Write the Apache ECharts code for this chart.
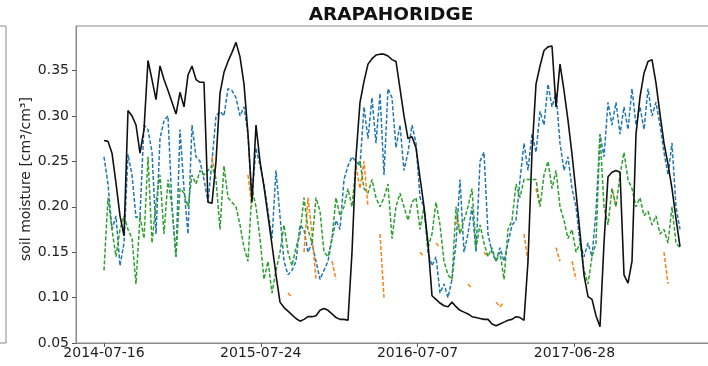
<!DOCTYPE html>
<html>
<head>
<meta charset="utf-8">
<script src="https://cdn.jsdelivr.net/npm/echarts@6/dist/echarts.min.js"></script>
<style>
html,body{margin:0;padding:0;background:#fff;overflow:hidden;}
#c{width:708px;height:366px;}
</style>
</head>
<body>
<div id="c"></div>
<script>
// ---- data (sample index, evenly spaced) ----
const titleText = 'ARAPAHORIDGE';
const yAxisName = 'soil moisture [cm\u00b3/cm\u00b3]';
const tickPos = [0, 39.2, 78.4, 117.6];
const tickLabels = ['2014-07-16', '2015-07-24', '2016-07-07', '2017-06-28'];
const yTicks = [0.05, 0.10, 0.15, 0.20, 0.25, 0.30, 0.35];

const obsBlack = [
0.273,0.272,0.259,0.226,0.19,0.168,0.306,0.30,0.29,0.259,
0.285,0.361,0.34,0.318,0.355,0.34,0.328,0.315,0.302,0.326,
0.31,0.345,0.355,0.34,0.337,0.337,0.205,0.204,0.25,0.325,
0.348,0.36,0.37,0.381,0.365,0.335,0.28,0.205,0.29,0.25,
0.222,0.19,0.158,0.125,0.095,0.089,0.085,0.081,0.077,0.074,
0.076,0.079,0.079,0.08,0.086,0.088,0.086,0.082,0.078,0.076,
0.076,0.075,0.15,0.255,0.315,0.338,0.357,0.363,0.367,0.368,
0.368,0.366,0.362,0.36,0.33,0.30,0.275,0.277,0.265,0.232,
0.20,0.16,0.102,0.098,0.094,0.091,0.09,0.095,0.09,0.086,
0.084,0.082,0.079,0.078,0.077,0.076,0.076,0.071,0.069,0.071,
0.073,0.075,0.076,0.079,0.078,0.075,0.14,0.26,0.335,0.355,
0.372,0.376,0.377,0.31,0.357,0.328,0.295,0.258,0.216,0.171,
0.125,0.101,0.098,0.08,0.068,0.16,0.233,0.238,0.24,0.238,
0.125,0.116,0.14,0.28,0.321,0.347,0.36,0.362,0.336,0.302,
0.27,0.247,0.22,0.187,0.156
];

const simBlue = [
0.255,0.225,0.175,0.19,0.135,0.16,0.258,0.235,0.188,0.19,
0.29,0.285,0.26,0.17,0.275,0.295,0.30,0.2,0.145,0.285,
0.22,0.17,0.29,0.255,0.25,0.23,0.205,0.25,0.30,0.305,
0.30,0.33,0.328,0.32,0.30,0.31,0.28,0.21,0.265,0.245,
0.225,0.195,0.165,0.24,0.19,0.14,0.125,0.13,0.14,0.18,
0.175,0.15,0.16,0.14,0.12,0.13,0.14,0.165,0.185,0.175,
0.23,0.245,0.255,0.25,0.245,0.31,0.275,0.32,0.27,0.325,
0.235,0.33,0.32,0.265,0.29,0.24,0.26,0.29,0.27,0.21,
0.2,0.15,0.135,0.145,0.105,0.115,0.1,0.12,0.16,0.23,
0.15,0.17,0.2,0.15,0.25,0.26,0.17,0.15,0.14,0.155,
0.14,0.16,0.18,0.185,0.23,0.27,0.24,0.28,0.26,0.305,
0.29,0.335,0.31,0.325,0.27,0.24,0.255,0.22,0.2,0.16,
0.145,0.16,0.145,0.195,0.28,0.255,0.315,0.29,0.315,0.28,
0.31,0.285,0.33,0.29,0.31,0.285,0.33,0.30,0.315,0.29,
0.26,0.235,0.27,0.2,0.175
];

const simGreen = [
0.13,0.21,0.175,0.145,0.175,0.19,0.175,0.165,0.115,0.19,
0.165,0.255,0.16,0.205,0.235,0.17,0.23,0.2,0.145,0.22,
0.215,0.2,0.235,0.225,0.24,0.235,0.24,0.245,0.23,0.175,
0.245,0.21,0.205,0.2,0.18,0.155,0.14,0.22,0.2,0.165,
0.12,0.14,0.105,0.13,0.15,0.18,0.15,0.135,0.155,0.17,
0.21,0.175,0.16,0.21,0.195,0.15,0.145,0.165,0.21,0.19,
0.2,0.22,0.2,0.245,0.25,0.22,0.215,0.23,0.21,0.2,
0.21,0.225,0.165,0.2,0.215,0.2,0.185,0.205,0.21,0.175,
0.2,0.155,0.17,0.205,0.18,0.14,0.125,0.12,0.2,0.17,
0.185,0.2,0.22,0.155,0.18,0.16,0.145,0.155,0.14,0.15,
0.12,0.175,0.185,0.225,0.21,0.23,0.23,0.23,0.23,0.2,
0.235,0.25,0.22,0.24,0.2,0.185,0.165,0.175,0.15,0.16,
0.13,0.115,0.145,0.16,0.28,0.2,0.18,0.22,0.2,0.235,
0.26,0.23,0.22,0.2,0.21,0.19,0.195,0.18,0.19,0.17,
0.175,0.16,0.2,0.16,0.155
];

// orange: sparse segments (sample index, value)
const simOrangeIdx = [27,28, 36,37, 46,47, 50,51,52,53, 57,58, 63,64,65,66, 69,70, 79,80, 83,84, 88,89, 91,92, 95,96, 98,99,100, 105,106, 108,109, 113,114, 117,118, 127,128, 140,141];
const simOrangeVal = [0.255,0.23, 0.235,0.2, 0.105,0.1, 0.15,0.21,0.17,0.12, 0.14,0.12, 0.245,0.22,0.25,0.2, 0.17,0.1, 0.15,0.145, 0.16,0.155, 0.19,0.17, 0.115,0.11, 0.15,0.145, 0.095,0.09,0.095, 0.17,0.14, 0.22,0.2, 0.155,0.14, 0.14,0.12, 0.22,0.2, 0.15,0.115];

// ---- build ----
const toPairs = arr => arr.map((v, i) => [i, v]);
const orangeFull = obsBlack.map(() => null);
simOrangeIdx.forEach((k, j) => { orangeFull[k] = simOrangeVal[j]; });
const orangePairs = orangeFull.map((v, i) => [i, v]);

const font = 'DejaVu Sans';
const dashed = (color, data) => ({
  type: 'line', data: data, showSymbol: false, symbol: 'none',
  connectNulls: false, animation: false,
  lineStyle: { color: color, width: 1.5, type: [4, 2] }
});

const chart = echarts.init(document.getElementById('c'), null, { renderer: 'canvas' });
chart.setOption({
  backgroundColor: '#fff',
  animation: false,
  title: {
    text: titleText, left: 391, top: 6, textAlign: 'center', padding: 0,
    textStyle: { fontFamily: font, fontWeight: 'bold', fontSize: 18.5, color: '#111' }
  },
  grid: [
    { left: 76, top: 26, width: 700, height: 317, show: true, borderColor: '#8a8a8a', borderWidth: 1, containLabel: false, outerBoundsMode: 'none' },
    { left: -200, top: 26, width: 206, height: 317, show: true, borderColor: '#8a8a8a', borderWidth: 1, outerBoundsMode: 'none' }
  ],
  xAxis: [
    {
      type: 'value', gridIndex: 0, min: -7, max: 168,
      splitLine: { show: false },
      axisLine: { show: true, onZero: false, lineStyle: { color: '#8a8a8a', width: 1 } },
      axisTick: { show: true, length: 4, customValues: tickPos, lineStyle: { color: '#555' } },
      axisLabel: {
        show: true, customValues: tickPos, margin: 3,
        fontFamily: font, fontSize: 14, color: '#222',
        formatter: v => { const k = tickPos.findIndex(t => Math.abs(t - v) < 1e-6); return k >= 0 ? tickLabels[k] : ''; }
      }
    },
    { type: 'value', gridIndex: 1, show: false, min: 0, max: 1 }
  ],
  yAxis: [
    {
      type: 'value', gridIndex: 0, min: 0.05, max: 0.399, interval: 0.05,
      splitLine: { show: false },
      axisLine: { show: true, onZero: false, lineStyle: { color: '#8a8a8a', width: 1 } },
      axisTick: { show: true, length: 4, lineStyle: { color: '#555' } },
      axisLabel: {
        margin: 7, fontFamily: font, fontSize: 14, color: '#222', showMinLabel: true, showMaxLabel: false,
        formatter: v => (yTicks.some(t => Math.abs(t - v) < 1e-6) ? v.toFixed(2) : '')
      },
      name: yAxisName, nameLocation: 'middle', nameGap: 43, nameRotate: 90, nameMoveOverlap: false,
      nameTextStyle: { fontFamily: font, fontSize: 14, color: '#222', padding: [0, 0, 0, 11] }
    },
    { type: 'value', gridIndex: 1, show: false, min: 0, max: 1 }
  ],
  series: [
    Object.assign(dashed('#1f77b4', toPairs(simBlue)), { name: 'blue' }),
    Object.assign(dashed('#ff7f0e', orangePairs), { name: 'orange' }),
    Object.assign(dashed('#2ca02c', toPairs(simGreen)), { name: 'green' }),
    {
      name: 'obs', type: 'line', data: toPairs(obsBlack), showSymbol: false, symbol: 'none',
      animation: false, lineStyle: { color: '#111', width: 1.6, type: 'solid' }
    }
  ]
});
</script>
</body>
</html>
